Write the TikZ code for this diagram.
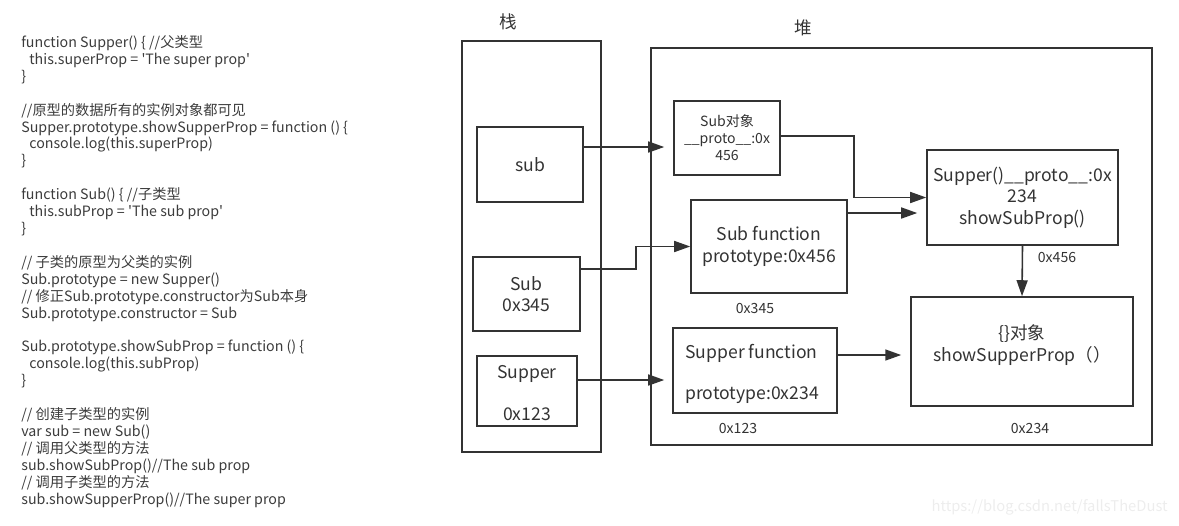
\documentclass[tikz,border=0pt]{standalone}
\usepackage{fontspec}
\setmainfont{Noto Sans CJK SC}
\usepackage{xcolor}
\usetikzlibrary{arrows.meta, positioning, calc}
\definecolor{ink}{HTML}{333333}
\definecolor{codeink}{HTML}{3c3c3c}

\begin{document}
\begin{tikzpicture}[
  x=0.02cm, y=-0.02cm,
  box/.style={draw=ink, line width=0.9pt, align=center, text=ink, inner sep=0pt, font=\fontsize{10}{12.2}\selectfont},
  bigbox/.style={draw=ink, line width=0.9pt, inner sep=0pt},
  txt/.style={text=ink, inner sep=0pt, align=center, font=\fontsize{10}{12.2}\selectfont},
  addr/.style={text=ink, inner sep=0pt, font=\fontsize{8}{9}\selectfont},
  code/.style={text=codeink, inner sep=0pt, align=left, font=\fontsize{8.1}{9.63}\selectfont},
  arr/.style={-{Triangle[length=3.2mm, width=2.2mm]}, line width=0.9pt, draw=ink},
]
  \useasboundingbox (0,0) rectangle (1179,525);

  % Source code
  \node[code, anchor=west] (src) at (21,271.5) {%
    function Supper() \{ //父类型\\
    \hspace{1.6mm}this.superProp = \textquotesingle The super prop\textquotesingle\\
    \}\\
    ~\\
    //原型的数据所有的实例对象都可见\\
    Supper.prototype.showSupperProp = function () \{\\
    \hspace{1.6mm}console.log(this.superProp)\\
    \}\\
    ~\\
    function Sub() \{ //子类型\\
    \hspace{1.6mm}this.subProp = \textquotesingle The sub prop\textquotesingle\\
    \}\\
    ~\\
    // 子类的原型为父类的实例\\
    Sub.prototype = new Supper()\\
    // 修正Sub.prototype.constructor为Sub本身\\
    Sub.prototype.constructor = Sub\\
    ~\\
    Sub.prototype.showSubProp = function () \{\\
    \hspace{1.6mm}console.log(this.subProp)\\
    \}\\
    ~\\
    // 创建子类型的实例\\
    var sub = new Sub()\\
    // 调用父类型的方法\\
    sub.showSubProp()//The sub prop\\
    // 调用子类型的方法\\
    sub.showSupperProp()//The super prop};

  % Stack
  \node[bigbox, minimum width=2.78cm, minimum height=8.22cm] (stack) at (531.5,246.5) {};
  \node[txt] (stacklbl) at (508,22) {栈};
  \node[box, minimum width=2.12cm, minimum height=1.5cm] (sub) at (530,164.5) {sub};
  \node[box, minimum width=2.14cm, minimum height=1.48cm] (cls) at (526.5,294) {Sub\\0x345};
  \node[box, minimum width=2.0cm, minimum height=1.4cm] (sup) at (527,391) {};
  \node[txt] (supname) at (527,374) {Supper};
  \node[txt] (supaddr) at (527,414) {0x123};

  % Heap
  \node[bigbox, minimum width=10.02cm, minimum height=7.94cm] (heap) at (901.5,246.5) {};
  \node[txt] (heaplbl) at (803,28) {堆};
  \node[box, font=\fontsize{8}{9.7}\selectfont, minimum width=2.12cm, minimum height=1.48cm] (subobj) at (727,138) {Sub对象\\\_\_proto\_\_:0x\\456};
  \node[box, minimum width=3.12cm, minimum height=1.86cm] (subfn) at (769,246.5) {Sub function\\prototype:0x456};
  \node[addr] (addr345) at (755,308) {0x345};
  \node[box, minimum width=3.28cm, minimum height=1.7cm] (supfn) at (755,370.5) {};
  \node[txt, anchor=west] (supfnname) at (685,353) {Supper function};
  \node[txt, anchor=west] (supfnproto) at (685,395) {prototype:0x234};
  \node[addr] (addr123) at (738,428) {0x123};
  \node[box, minimum width=3.82cm, minimum height=1.9cm] (supproto) at (1022.5,197.5) {Supper()\_\_proto\_\_:0x\\234\\showSubProp()};
  \node[addr] (addr456) at (1057,257) {0x456};
  \node[box, minimum width=4.44cm, minimum height=2.18cm] (emptyobj) at (1022,351.5) {};
  \node[txt] (emptytxt) at (1022,345) {\{\}对象\\showSupperProp（）};
  \node[addr] (addr234) at (1030,428) {0x234};

  % Watermark
  \node[text=black!7, inner sep=0pt, anchor=east, font=\fontsize{8.4}{10}\selectfont] (mark) at (1168,507) {https://blog.csdn.net/fallsTheDust};

  % Arrows
  \draw[arr, shorten >=1.8mm] ([yshift=3.5mm]sub.east) -- ([yshift=3.5mm]sub.east -| subobj.west);
  \draw[arr] ([yshift=5mm]cls.east) -- ++(55,0) |- (subfn.west);
  \draw[arr, shorten >=1.6mm] ([yshift=2.2mm]sup.east) -- ([yshift=2.2mm]sup.east -| supfn.west);
  \draw[arr] ([yshift=0.4mm]subobj.east) -- ++(73,0) |- (supproto.west);
  \draw[arr, shorten >=1.8mm] ([yshift=6.7mm]subfn.east) -- ([yshift=6.7mm]subfn.east -| supproto.west);
  \draw[arr, shorten >=1.8mm] ([yshift=3.1mm]supfn.east) -- ([yshift=3.1mm]supfn.east -| emptyobj.west);
  \draw[arr] (supproto.south) -- (emptyobj.north);
\end{tikzpicture}
\end{document}
